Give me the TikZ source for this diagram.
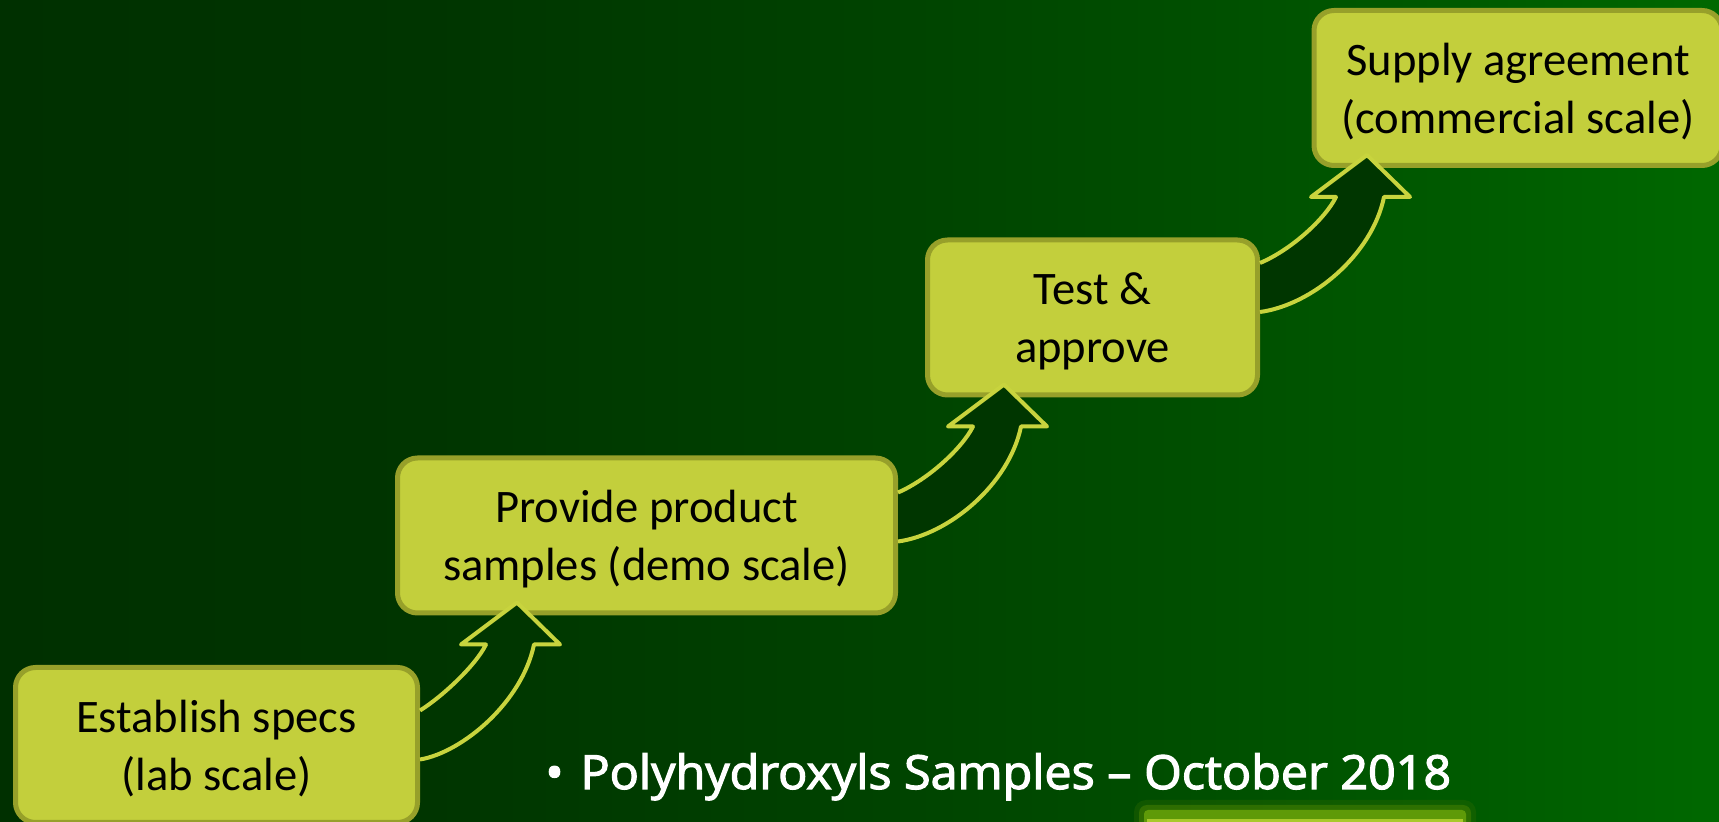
\documentclass[tikz,border=0pt]{standalone}
\usepackage{fontspec}
\usepackage{graphicx}
\setmainfont{Carlito}
\newfontfamily\notefont{Open Sans}[FakeBold=2.5]
\usetikzlibrary{calc}
\definecolor{bg0}{HTML}{003000}
\definecolor{bg1}{HTML}{003500}
\definecolor{bg2}{HTML}{004200}
\definecolor{bg3}{HTML}{004F00}
\definecolor{bg4}{HTML}{005A00}
\definecolor{bg5}{HTML}{006800}
\definecolor{boxfill}{HTML}{C3CF3C}
\definecolor{boxline}{HTML}{97A02A}
\definecolor{arrowdark}{HTML}{003600}
\definecolor{arrowedge}{HTML}{C8D43E}
\definecolor{glowout}{HTML}{2F6A00}
\definecolor{glowin}{HTML}{5E9A08}
\definecolor{glowline}{HTML}{A9C92A}
\pgfdeclarehorizontalshading{bgshade}{100bp}{color(0bp)=(bg0); color(25bp)=(bg0); color(37.5bp)=(bg1); color(50bp)=(bg2); color(60bp)=(bg3); color(67.5bp)=(bg4); color(75bp)=(bg5); color(100bp)=(bg5)}
\tikzset{
  stagebox/.style={draw=boxline, line width=2.5pt, fill=boxfill, rounded corners=10pt,
    minimum height=77.5pt, align=center, text=black, inner sep=0pt,
    font=\fontsize{23.3}{29}\selectfont},
  arrowfillstyle/.style={fill=arrowdark},
  arrowlinestyle/.style={draw=arrowedge, line width=2pt, line join=round},
}
\newcommand\stagearrow[3]{%
  \coordinate (tip-#2) at ($(#1.east |- #2.south)+(#3,-13)$);
  \begin{scope}[shift={(tip-#2)}]
    \fill[arrowfillstyle] (-#3,108) .. controls (-76,95) and (-42,64) .. (-31,42)
      -- (-56,42) -- (0,0) -- (43,42) -- (17,42)
      .. controls (5,100) and (-55,150) .. (-#3,157) -- cycle;
    \draw[arrowlinestyle] (-#3,108) .. controls (-76,95) and (-42,64) .. (-31,42)
      -- (-56,42) -- (0,0) -- (43,42) -- (17,42)
      .. controls (5,100) and (-55,150) .. (-#3,157);
  \end{scope}}
\begin{document}
\begin{tikzpicture}[x=0.5pt,y=-0.5pt]
  \useasboundingbox (0,0) rectangle (1719,822);
  \shade[shading=bgshade] (0,0) rectangle (1719,822);
  \begin{scope}
    \clip (0,0) rectangle (1719,822);
    % stage boxes
    \node[stagebox, minimum width=201pt] (b1) at (216.5,745) {\rule{0pt}{20pt}Establish specs\\(lab scale)};
    \node[stagebox, minimum width=249pt] (b2) at (646.5,535.5) {\rule{0pt}{20pt}Provide product\\samples (demo scale)};
    \node[stagebox, minimum width=165pt] (b3) at (1092.5,317.5) {\rule{0pt}{20pt}Test \&\\approve};
    \node[stagebox, minimum width=204pt] (b4) at (1518,88) {\rule{0pt}{20pt}Supply agreement\\(commercial scale)};
    % curved arrows
    \stagearrow{b1}{b2}{97}
    \stagearrow{b2}{b3}{106}
    \stagearrow{b3}{b4}{107}
    % glowing bar at the bottom
    \fill[glowout, opacity=0.35, rounded corners=6pt] (1134,800) rectangle (1476,840);
    \fill[glowout!60!glowin, opacity=0.6, rounded corners=4pt] (1139,805) rectangle (1471,840);
    \fill[glowin, rounded corners=2pt] (1144,810) rectangle (1466,840);
    \fill[glowline] (1147,819.5) rectangle (1463,840);
  \end{scope}
  \node[anchor=base west, text=white, inner sep=0pt,
        font=\notefont\fontsize{23.5}{28}\selectfont] (note) at (545,789)
        {\scalebox{1.03}[1]{•\hspace{0.35em}Polyhydroxyls Samples – October 2018}};
\end{tikzpicture}
\end{document}
